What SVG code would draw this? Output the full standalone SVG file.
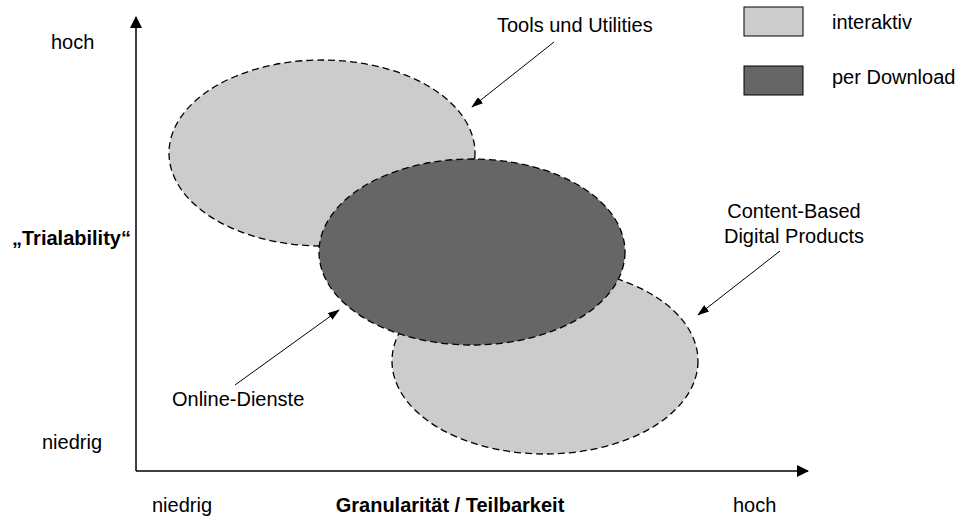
<svg xmlns="http://www.w3.org/2000/svg" width="960" height="517" viewBox="0 0 960 517">
  <defs>
    <marker id="axisHead" viewBox="0 0 12 12" refX="11" refY="6" markerWidth="12" markerHeight="12" markerUnits="userSpaceOnUse" orient="auto">
      <path d="M0,0 L12,6 L0,12 z" fill="#000"/>
    </marker>
    <marker id="pointerHead" viewBox="0 0 12 8" refX="11" refY="4" markerWidth="12" markerHeight="8" markerUnits="userSpaceOnUse" orient="auto">
      <path d="M0,0 L12,4 L0,8 z" fill="#000"/>
    </marker>
  </defs>
  <style>
    text { font-family: "Liberation Sans", Arial, sans-serif; font-size: 20px; fill: #000; }
    .bold { font-weight: bold; }
    .light { fill: #cccccc; }
    .dark { fill: #666666; }
    .region { stroke: #000; stroke-width: 1.3; stroke-dasharray: 7 4; }
    .axis { stroke: #000; stroke-width: 1.5; fill: none; }
    .pointer { stroke: #000; stroke-width: 1; fill: none; }
    .legend-box { stroke: #000; stroke-width: 1; }
  </style>
  <rect width="960" height="517" fill="#fff"/>

  <!-- axes -->
  <g id="axes">
    <line class="axis" x1="136" y1="471" x2="136" y2="17" marker-end="url(#axisHead)"/>
    <line class="axis" x1="136" y1="471" x2="808" y2="471" marker-end="url(#axisHead)"/>
    <text x="51" y="49">hoch</text>
    <text x="42" y="449">niedrig</text>
    <text class="bold" x="12" y="245">„Trialability“</text>
    <text x="152" y="512">niedrig</text>
    <text class="bold" x="450" y="512" text-anchor="middle">Granularität / Teilbarkeit</text>
    <text x="733" y="512">hoch</text>
  </g>

  <!-- regions -->
  <g id="tools">
    <ellipse class="region light" cx="322" cy="153" rx="153" ry="93"/>
  </g>
  <g id="content">
    <ellipse class="region light" cx="545" cy="361" rx="153" ry="93"/>
  </g>
  <g id="online">
    <ellipse class="region dark" cx="472" cy="252" rx="153" ry="93"/>
  </g>

  <!-- labels -->
  <g id="label-tools">
    <text x="497" y="32">Tools und Utilities</text>
  </g>
  <g id="label-content">
    <text x="794" y="218" text-anchor="middle">Content-Based</text>
    <text x="794" y="243" text-anchor="middle">Digital Products</text>
  </g>
  <g id="label-online">
    <text x="172" y="406">Online-Dienste</text>
  </g>

  <!-- connectors -->
  <g id="connectors">
    <line class="pointer" x1="554" y1="42" x2="472" y2="107" marker-end="url(#pointerHead)"/>
    <line class="pointer" x1="780" y1="251" x2="698" y2="315" marker-end="url(#pointerHead)"/>
    <line class="pointer" x1="235" y1="385" x2="339" y2="310" marker-end="url(#pointerHead)"/>
  </g>

  <!-- legend -->
  <g id="legend-interaktiv">
    <rect class="legend-box light" x="744" y="7" width="59" height="29"/>
    <text x="832" y="29">interaktiv</text>
  </g>
  <g id="legend-download">
    <rect class="legend-box dark" x="744" y="66" width="59" height="29"/>
    <text x="832" y="84">per Download</text>
  </g>
</svg>
